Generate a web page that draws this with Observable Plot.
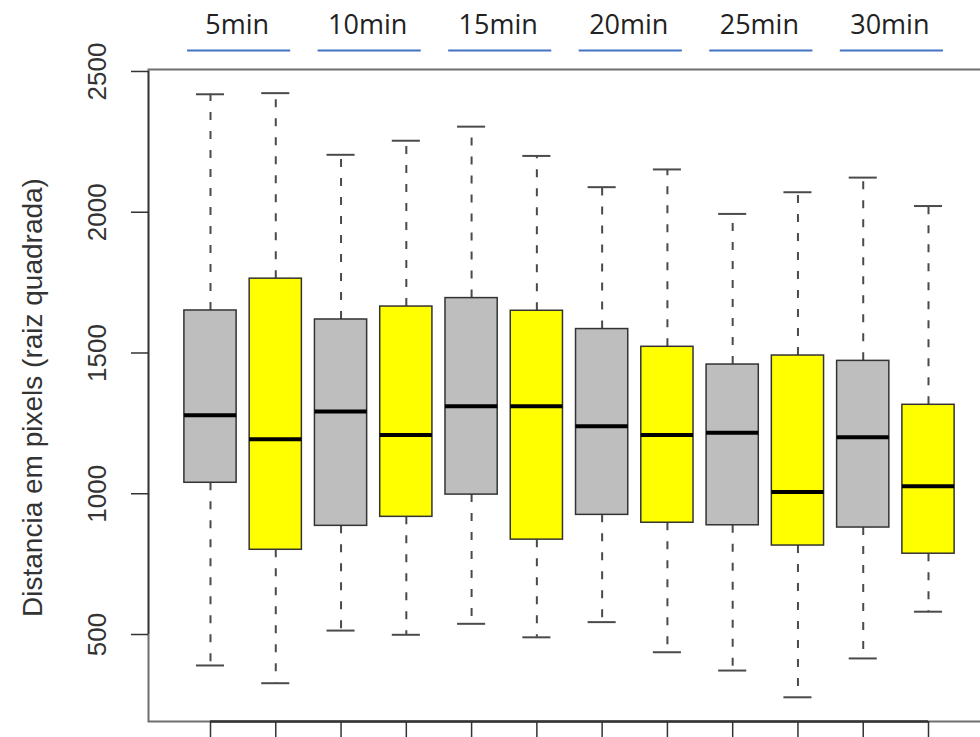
<!DOCTYPE html>
<html>
<head>
<meta charset="utf-8">
<script src="https://cdn.jsdelivr.net/npm/d3@7"></script>
<script src="https://cdn.jsdelivr.net/npm/@observablehq/plot@0.6"></script>
<style>
  html, body { margin: 0; padding: 0; background: #fff; overflow: hidden; width: 980px; height: 737px; }
</style>
</head>
<body>
<div id="chart"></div>
<script>
// ---- data ----
const timeLabels = ["5min", "10min", "15min", "20min", "25min", "30min"];
const seriesNames = ["cinza", "amarelo"];
const seriesColors = ["#BEBEBE", "#FFFF00"];
// 12 boxes: for each time, grey then yellow
const whiskerLow  = [390, 327, 514, 499, 538, 490, 544, 437, 372, 277, 415, 581];
const q1          = [1039, 801, 886, 918, 997, 837, 925, 897, 888, 816, 880, 787];
const medians     = [1279, 1194, 1292, 1209, 1311, 1311, 1240, 1209, 1217, 1006, 1201, 1027];
const q3          = [1651, 1764, 1619, 1665, 1695, 1650, 1585, 1522, 1459, 1491, 1472, 1316];
const whiskerHigh = [2419, 2423, 2204, 2254, 2304, 2200, 2089, 2152, 1994, 2071, 2123, 2022];
const yTicks = [500, 1000, 1500, 2000, 2500];
const yTitle = "Distancia em pixels (raiz quadrada)";

// ---- derived tables ----
const boxes = q1.map((_, i) => ({
  pos: i + 1,
  time: timeLabels[Math.floor(i / 2)],
  series: seriesNames[i % 2],
  lo: whiskerLow[i], q1: q1[i], med: medians[i], q3: q3[i], hi: whiskerHigh[i]
}));
const groups = timeLabels.map((t, j) => ({ label: t, center: 2 * j + 1.5 }));
const positions = boxes.map(d => d.pos);

const boxHalf = 0.4, capHalf = 0.215, lineHalf = 0.79;
const yDomain = [191, 2507];

const chart = Plot.plot({
  width: 1000,
  height: 737,
  marginLeft: 148,
  marginRight: 5,
  marginTop: 69,
  marginBottom: 16,
  style: { maxWidth: "none", background: "#fff", overflow: "visible" },
  x: { domain: [1, 12], range: [210, 928], axis: null },
  y: { domain: yDomain, range: [721, 69], axis: null },
  color: { domain: seriesNames, range: seriesColors },
  marks: [
    // whiskers (dashed)
    Plot.ruleX(boxes, { x: "pos", y1: "q3", y2: "hi", stroke: "#4a4a4a", strokeWidth: 2, strokeDasharray: "8,11" }),
    Plot.ruleX(boxes, { x: "pos", y1: "q1", y2: "lo", stroke: "#4a4a4a", strokeWidth: 2, strokeDasharray: "8,11" }),
    // caps
    Plot.ruleY(boxes, { x1: d => d.pos - capHalf, x2: d => d.pos + capHalf, y: "hi", stroke: "#4a4a4a", strokeWidth: 2 }),
    Plot.ruleY(boxes, { x1: d => d.pos - capHalf, x2: d => d.pos + capHalf, y: "lo", stroke: "#4a4a4a", strokeWidth: 2 }),
    // boxes
    Plot.rect(boxes, { x1: d => d.pos - boxHalf, x2: d => d.pos + boxHalf, y1: "q1", y2: "q3", fill: "series", stroke: "#333", strokeWidth: 1.5 }),
    // medians
    Plot.ruleY(boxes, { x1: d => d.pos - boxHalf, x2: d => d.pos + boxHalf, y: "med", stroke: "#000", strokeWidth: 4 }),
    // frame
    Plot.frame({ stroke: "#6e6e6e", strokeWidth: 2 }),
    // y axis ticks
    Plot.axisY({ ticks: yTicks, tickSize: 17, tickFormat: () => "", label: null, stroke: "#333", strokeWidth: 1.5 }),
    Plot.ruleX([yTicks[0]], { x: () => 1, dx: -62, y1: yTicks[0], y2: yTicks[yTicks.length - 1], stroke: "#333", strokeWidth: 1.5 }),
    Plot.text(yTicks, { y: d => d, text: d => String(d), frameAnchor: "left", dx: -51, rotate: -90,
      textAnchor: "middle", lineAnchor: "middle", fontSize: 26, fontFamily: "Liberation Sans, Arial, sans-serif", fill: "#333" }),
    // y title
    Plot.text([yTitle], { text: d => d, frameAnchor: "left", dx: -115, dy: 2, rotate: -90,
      textAnchor: "middle", lineAnchor: "middle", fontSize: 28, fontFamily: "Liberation Sans, Arial, sans-serif", fill: "#333" }),
    // x axis ticks (no labels) and axis line
    Plot.axisX({ ticks: positions, tickSize: 20, tickFormat: () => "", label: null, anchor: "bottom", stroke: "#333", strokeWidth: 1.5 }),
    Plot.ruleY([positions], { x1: d => d[0], x2: d => d[d.length - 1], y: () => yDomain[0], stroke: "#333", strokeWidth: 2.5 }),
    // top group labels with blue underlines
    Plot.text(groups, { x: "center", text: "label", frameAnchor: "top", dy: -44, dx: -6,
      textAnchor: "middle", lineAnchor: "middle", fontSize: 27, fontFamily: "Open Sans, Noto Sans, sans-serif", fill: "#222" }),
    Plot.ruleY(groups, { x1: d => d.center - lineHalf, x2: d => d.center + lineHalf, y: () => yDomain[1], dy: -19, dx: -4,
      stroke: "#4472C4", strokeWidth: 1.8 })
  ]
});
document.getElementById("chart").appendChild(chart);
</script>
</body>
</html>
